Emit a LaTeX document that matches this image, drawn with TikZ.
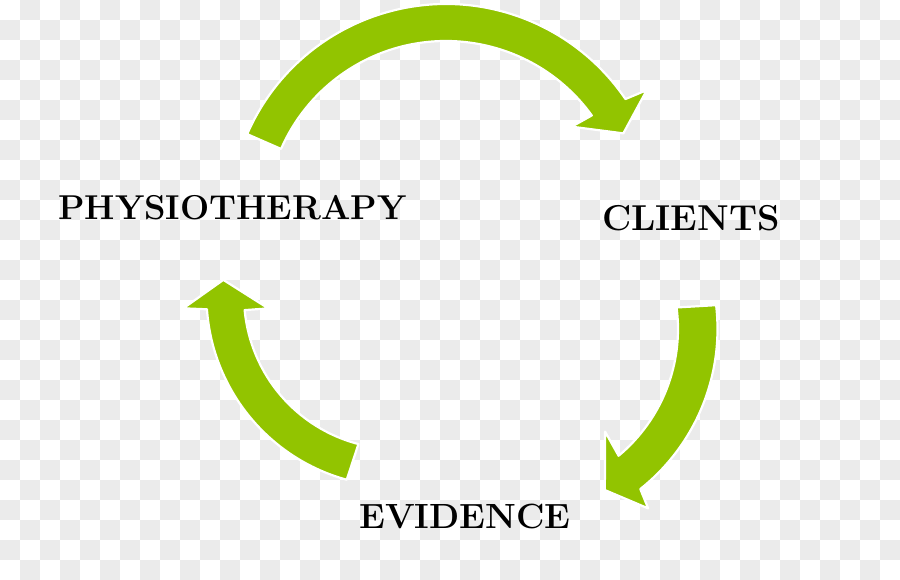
\documentclass[tikz,border=0pt]{standalone}
\usetikzlibrary{calc}
\definecolor{arrowgreen}{RGB}{146,196,0}
\definecolor{chkgrey}{RGB}{235,235,235}
\begin{document}
\begin{tikzpicture}[x=1pt,y=-1pt,
  chk/.style={fill=chkgrey},
  cyclearrow/.style={fill=arrowgreen,draw=white,line width=2.2pt,line join=round},
  lbl/.style={font=\fontsize{35}{42}\selectfont\bfseries,inner sep=0pt,anchor=base west,text=black}]
\useasboundingbox (0,0) rectangle (900,580);
\fill[white] (0,0) rectangle (900,580);
% transparency checkerboard
\foreach \j in {0,2,...,28} \foreach \i in {1,3,...,43} \fill[chk] (\i*20,\j*20) rectangle ++(20,20);
\foreach \j in {1,3,...,27} \foreach \i in {0,2,...,44} \fill[chk] (\i*20,\j*20) rectangle ++(20,20);

% centres of the three arcs
\coordinate (ctop) at (446,221);
\coordinate (cright) at (513,329);
\coordinate (cleft) at (397,296);

% top arrow: PHYSIOTHERAPY -> CLIENTS
\path[cyclearrow] ($(ctop)+(203.6:217)$) arc[start angle=203.6,end angle=325.8,radius=217]
  -- ($(ctop)+(326.9:239.7)$) -- ($(ctop)+(333.7:197.8)$) -- ($(ctop)+(323.1:157.1)$)
  -- ($(ctop)+(324.1:180)$) arc[start angle=324.1,end angle=203.6,radius=180] -- cycle;

% right arrow: CLIENTS -> EVIDENCE
\path[cyclearrow] ($(cright)+(-6.7:204.5)$) arc[start angle=-6.7,end angle=51.5,radius=204.5]
  -- ($(cright)+(53.0:224.6)$) -- ($(cright)+(60.3:185.4)$) -- ($(cright)+(48.1:137.9)$)
  -- ($(cright)+(50.2:165)$) arc[start angle=50.2,end angle=-7.5,radius=165] -- cycle;

% left arrow: EVIDENCE -> PHYSIOTHERAPY
\path[cyclearrow] ($(cleft)+(105.3:190.5)$) arc[start angle=105.3,end angle=176,radius=190.5]
  -- ($(cleft)+(176.7:214.1)$) -- ($(cleft)+(185.3:174.4)$) -- ($(cleft)+(174.5:129.3)$)
  -- ($(cleft)+(174.7:153)$) arc[start angle=174.7,end angle=104.6,radius=153] -- cycle;

\node[lbl,font=\fontsize{34.5}{42}\selectfont\bfseries] (physio) at (58,220) {PHYSIOTHERAPY};
\node[lbl,font=\fontsize{36}{42}\selectfont\bfseries] (clients) at (602,231) {CLIENTS};
\node[lbl] (evidence) at (359,528) {EVIDENCE};
\end{tikzpicture}
\end{document}
